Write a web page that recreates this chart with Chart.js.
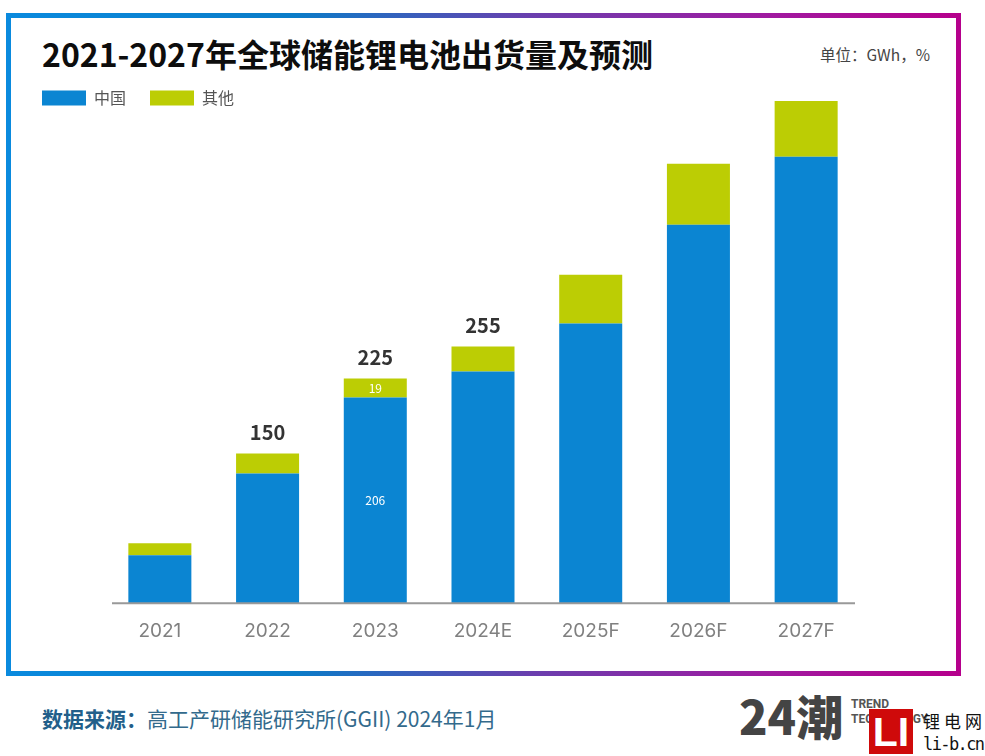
<!DOCTYPE html>
<html lang="zh">
<head>
<meta charset="UTF-8">
<title>2021-2027年全球储能锂电池出货量及预测</title>
<script src="https://cdn.jsdelivr.net/npm/chart.js"></script>
<style>
    html, body { margin: 0; padding: 0; background: #fff; }
    body { width: 985px; height: 756px; position: relative; overflow: hidden; font-family: "Noto Sans CJK SC", sans-serif; }
    .abs { position: absolute; white-space: nowrap; line-height: 1; }
    #frame { left: 6px; top: 13px; width: 945px; height: 653px; border: 5px solid; border-image: linear-gradient(90deg, #0a8ade 0%, #0a7cc8 30%, #6a3fae 55%, #a01aa0 80%, #b5008c 100%) 1; }
    #title { left: 42px; top: 37px; font-size: 32px; font-weight: 700; color: #0d0d0d; }
    #unit { left: 820px; top: 47px; font-size: 15.5px; color: #444; }
    #chartBox { left: 18px; top: 66px; width: 842px; height: 586px; }
    #source { left: 42px; top: 708px; font-size: 21px; color: #336a8c; }
    #source b { color: #225f8a; font-weight: 700; }
    #logo { left: 739px; top: 691px; font-size: 47px; font-weight: 900; color: #444; letter-spacing: 0; }
    #trend { left: 851px; top: 697px; font-size: 12px; font-weight: 700; color: #555; line-height: 15px; font-family: Roboto, sans-serif; }
    #li { left: 869px; top: 709px; width: 44px; height: 45px; background: #cf0a0a; color: #fff; font: 700 41px/47px "Liberation Sans", sans-serif; text-align: center; }
    #wm1 { left: 923px; top: 712px; font-size: 17px; letter-spacing: 4px; color: #111; font-family: "Noto Sans CJK SC"; }
    #wm2 { left: 923px; top: 736px; font-size: 17px; color: #111; font-family: "DejaVu Sans Mono", monospace; letter-spacing: -1.6px; }
</style>
</head>
<body>
<div id="frame" class="abs"></div>
<div id="title" class="abs">2021-2027年全球储能锂电池出货量及预测</div>
<div id="unit" class="abs">单位：GWh，%</div>
<div id="chartBox" class="abs"><canvas id="chart" width="842" height="586"></canvas></div>
<div id="source" class="abs"><b>数据来源：</b>高工产研储能研究所(GGII) 2024年1月</div>
<div id="logo" class="abs">24潮</div>
<div id="trend" class="abs">TREND<br>TECHNOLOGY</div>
<div id="li" class="abs">LI</div>
<div id="wm1" class="abs">锂电网</div>
<div id="wm2" class="abs">li-b.cn</div>

<script>
    const years = ["2021", "2022", "2023", "2024E", "2025F", "2026F", "2027F"];
    const china = [48, 130, 206, 232, 280, 379, 447];
    const other = [12, 20, 19, 25, 49, 61, 56];
    // seuls ces chiffres sont imprimes sur le graphique
    const totalLabels = [null, 150, 225, 255, null, null, null];
    const chinaLabels = [null, null, 206, null, null, null, null];
    const otherLabels = [null, null, 19, null, null, null, null];

    // la legende ne prend que 1px dans la mise en page, les barres peuvent monter a cote d'elle
    const legendOverlap = {
        id: "legendOverlap",
        afterLayout(chart) {
            chart.legend.bottom = chart.legend.top + 50;
        }
    };

    const barLabels = {
        id: "barLabels",
        afterDatasetsDraw(chart) {
            const ctx = chart.ctx;
            const china_bars = chart.getDatasetMeta(0).data;
            const other_bars = chart.getDatasetMeta(1).data;
            ctx.save();
            ctx.textAlign = "center";
            ctx.textBaseline = "middle";
            years.forEach((y, i) => {
                if (totalLabels[i] !== null) {
                    ctx.font = "700 20px 'Noto Sans CJK SC'";
                    ctx.fillStyle = "#333";
                    ctx.fillText(totalLabels[i], other_bars[i].x, other_bars[i].y - 21);
                }
                ctx.font = "12px 'Noto Sans CJK SC'";
                ctx.fillStyle = "#fff";
                if (chinaLabels[i] !== null) {
                    const b = china_bars[i];
                    ctx.fillText(chinaLabels[i], b.x, (b.y + b.base) / 2);
                }
                if (otherLabels[i] !== null) {
                    const b = other_bars[i];
                    ctx.fillText(otherLabels[i], b.x, (b.y + b.base) / 2);
                }
            });
            // ligne de base, un peu plus courte que la zone du graphique
            const x = chart.scales.x;
            ctx.strokeStyle = "#999";
            ctx.lineWidth = 2;
            ctx.beginPath();
            ctx.moveTo(x.left + 6, x.top);
            ctx.lineTo(x.right - 5, x.top);
            ctx.stroke();
            ctx.restore();
        }
    };

    new Chart(document.getElementById("chart"), {
        type: "bar",
        data: {
            labels: years,
            datasets: [
                { label: "中国", data: china, backgroundColor: "#0b85d2" },
                { label: "其他", data: other, backgroundColor: "#bccd04" }
            ]
        },
        options: {
            responsive: false,
            animation: false,
            barPercentage: 0.585,
            categoryPercentage: 1,
            plugins: {
                tooltip: { enabled: false },
                legend: {
                    position: "top",
                    align: "start",
                    maxHeight: 1,
                    onClick: null,
                    labels: {
                        boxWidth: 44,
                        boxHeight: 15,
                        padding: 24,
                        color: "#555",
                        font: { family: "'Noto Sans CJK SC'", size: 16 }
                    }
                }
            },
            scales: {
                x: {
                    stacked: true,
                    grid: { display: false },
                    border: { display: false },
                    ticks: { color: "#808080", padding: 9, maxRotation: 0, autoSkip: false, font: { family: "Inter", size: 19 } }
                },
                y: {
                    stacked: true,
                    min: 0,
                    max: 537,
                    afterFit(scale) { scale.width = 88; },
                    grid: { display: false },
                    border: { display: false },
                    ticks: { display: false }
                }
            }
        },
        plugins: [legendOverlap, barLabels]
    });
</script>
</body>
</html>
